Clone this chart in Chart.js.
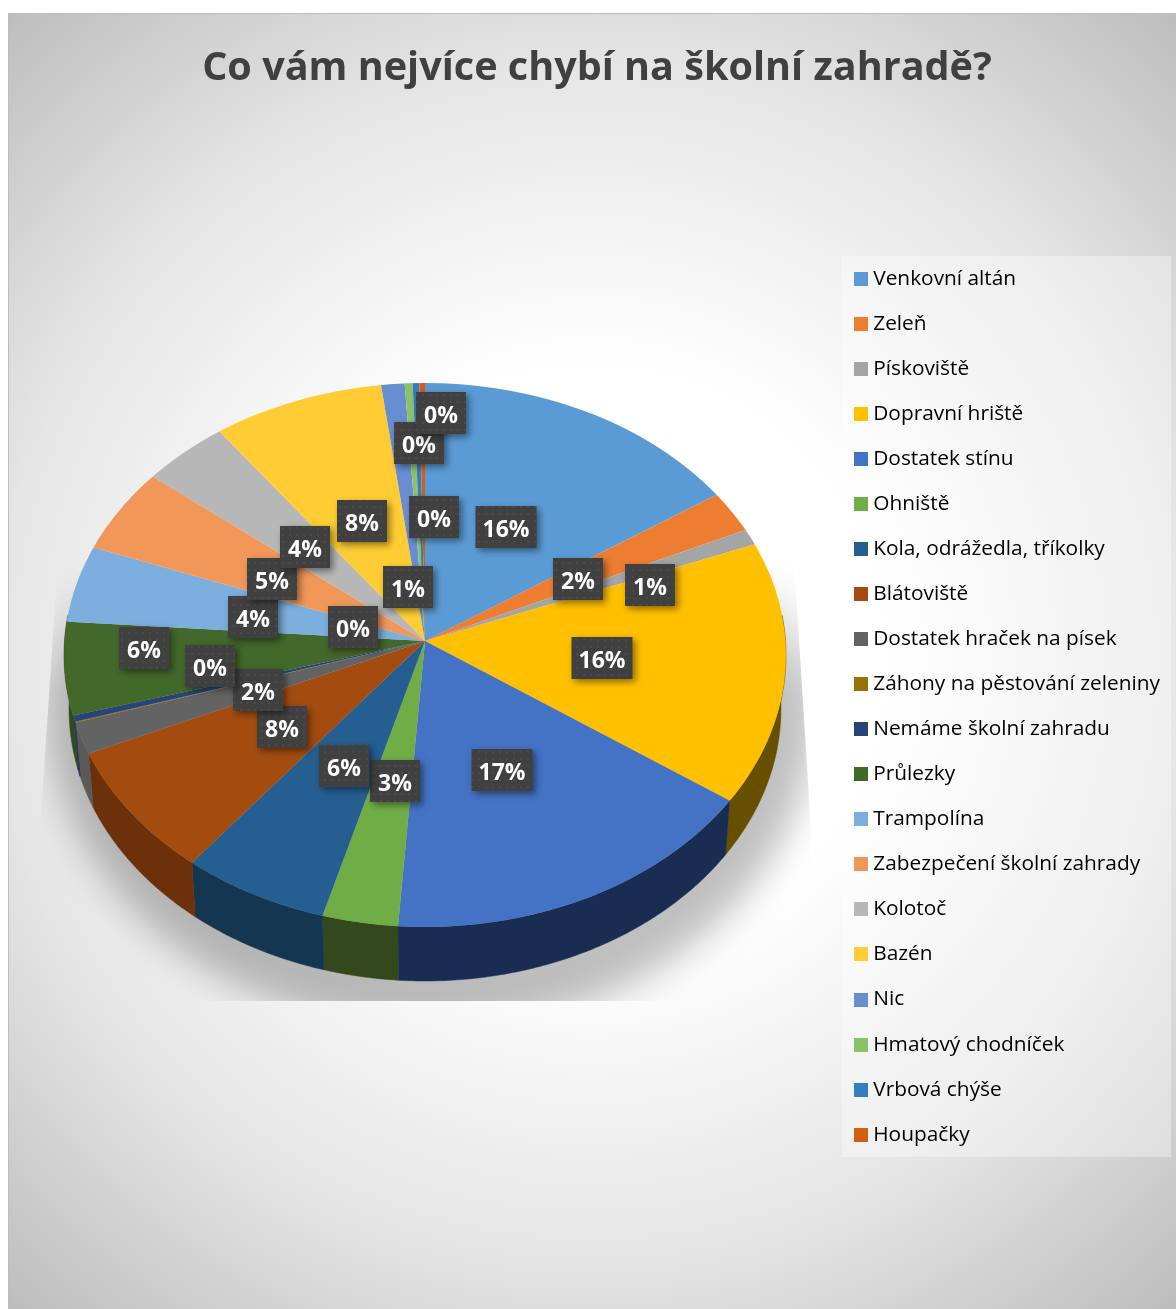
<!DOCTYPE html>
<html lang="cs">
<head>
<meta charset="utf-8">
<title>Co vám nejvíce chybí na školní zahradě?</title>
<script src="https://cdn.jsdelivr.net/npm/chart.js@4"></script>
<style>
  html, body { margin: 0; background: #fff; }
  canvas { display: block; }
</style>
</head>
<body>
<canvas id="pie" width="1176" height="1309"></canvas>
<script>
const categories = ['Venkovní altán', 'Zeleň', 'Pískoviště', 'Dopravní hriště', 'Dostatek stínu', 'Ohniště',
  'Kola, odrážedla, tříkolky', 'Blátoviště', 'Dostatek hraček na písek', 'Záhony na pěstování zeleniny',
  'Nemáme školní zahradu', 'Průlezky', 'Trampolína', 'Zabezpečení školní zahrady', 'Kolotoč', 'Bazén', 'Nic',
  'Hmatový chodníček', 'Vrbová chýše', 'Houpačky'];
const shares = [15.3, 2.55, 1.0, 15.5, 16.95, 3.4, 6.5, 7.6, 1.8, 0.05, 0.35, 5.35, 4.8, 5.2, 4.1, 7.8, 1.05, 0.35, 0.3, 0.25];
const percentLabels = ['16%', '2%', '1%', '16%', '17%', '3%', '6%', '8%', '2%', '0%', '0%', '6%', '4%', '5%', '4%', '8%', '1%', '0%', '0%', '0%'];

const topColors = ['#5b9bd5', '#ed7d31', '#a5a5a5', '#ffc000', '#4472c4', '#70ad47', '#255e91', '#a44c10', '#636363', '#997300',
  '#264478', '#43682b', '#7cafdd', '#f1975a', '#b7b7b7', '#ffcd33', '#698ed0', '#8cc168', '#327dc2', '#d26012'];
const sideColors = ['#2b4a66', '#70390f', '#4f4f4f', '#665000', '#192c52', '#33481c', '#143650', '#6c300a', '#5a5a5a', '#473600',
  '#1e3560', '#2f4a1e', '#3b5369', '#73482b', '#575757', '#7a6218', '#324463', '#435c31', '#183b5c', '#642e09'];

// where the data label boxes sit, same order as the categories
const labelSpots = [[506, 527], [578, 579], [650, 585], [602, 658], [502, 770], [395, 781], [344, 766], [282, 727], [258, 690], [210, 666],
  [353, 627], [144, 648], [253, 617], [272, 579], [305, 547], [362, 521], [408, 587], [434, 517], [419, 443], [441, 413]];

// the pie centre sits above the middle of the tilted outline
const hub = { x: 425, y: 641, up: 258, down: 287, rx: 361 };
const outline = { x: 425, y: 655, rx: 361, ry: 272 };
const wallDepth = 54;
const wallNarrow = 0.986;

const FONT = '"Open Sans", sans-serif';

function swatch(color) {
  const c = document.createElement('canvas');
  c.width = c.height = 14;
  const g = c.getContext('2d');
  g.fillStyle = color;
  g.fillRect(0, 0, 14, 14);
  return c;
}

function labelPattern(ctx) {
  const c = document.createElement('canvas');
  c.width = c.height = 7;
  const g = c.getContext('2d');
  g.fillStyle = '#404040';
  g.fillRect(0, 0, 7, 7);
  g.fillStyle = '#4a4a4a';
  g.fillRect(2, 2, 2, 2);
  return ctx.createPattern(c, 'repeat');
}

// where the ray of one pie angle meets the tilted outline
function rimPoint(a) {
  const dx = hub.rx * Math.cos(a);
  const dy = (Math.sin(a) > 0 ? hub.down : hub.up) * Math.sin(a);
  const oy = hub.y - outline.y;
  const A = (dx * dx) / (outline.rx * outline.rx) + (dy * dy) / (outline.ry * outline.ry);
  const B = 2 * dy * oy / (outline.ry * outline.ry);
  const C = (oy * oy) / (outline.ry * outline.ry) - 1;
  const t = (-B + Math.sqrt(B * B - 4 * A * C)) / (2 * A);
  return [hub.x + t * dx, hub.y + t * dy];
}

const backdrop = {
  id: 'backdrop',
  beforeDraw(chart) {
    const ctx = chart.ctx;
    ctx.save();
    const grad = ctx.createRadialGradient(592, 660, 0, 592, 660, 880);
    grad.addColorStop(0, '#ffffff');
    grad.addColorStop(0.33, '#ffffff');
    grad.addColorStop(0.67, '#e6e6e6');
    grad.addColorStop(1, '#bcbcbc');
    ctx.fillStyle = grad;
    ctx.fillRect(8, 14, 1168, 1295);
    ctx.strokeStyle = '#bdbdbd';
    ctx.lineWidth = 1;
    ctx.beginPath();
    ctx.moveTo(8.5, 1309);
    ctx.lineTo(8.5, 13.5);
    ctx.lineTo(1176, 13.5);
    ctx.stroke();
    ctx.fillStyle = 'rgba(255,255,255,0.35)';
    ctx.fillRect(842, 256, 329, 901);
    ctx.restore();
  }
};

const disc = {
  id: 'disc',
  beforeDatasetsDraw(chart) {
    const ctx = chart.ctx;
    const arcs = chart.getDatasetMeta(0).data;

    // soft shadow, cut off by a trapezoid like the original, fading out towards the top
    ctx.save();
    ctx.beginPath();
    ctx.moveTo(58, 560);
    ctx.lineTo(794, 560);
    ctx.lineTo(811, 830);
    ctx.lineTo(811, 1001);
    ctx.lineTo(40, 1001);
    ctx.lineTo(40, 830);
    ctx.closePath();
    ctx.clip();
    ctx.filter = 'blur(18px)';
    const fade = ctx.createLinearGradient(0, 570, 0, 690);
    fade.addColorStop(0, 'rgba(0,0,0,0)');
    fade.addColorStop(1, 'rgba(0,0,0,0.25)');
    ctx.fillStyle = fade;
    ctx.beginPath();
    ctx.ellipse(432, 705, 384, 325, 0, 0, Math.PI * 2);
    ctx.fill();
    ctx.restore();

    // side wall, only the front half shows
    arcs.forEach((arc, i) => {
      const a1 = Math.max(arc.startAngle, -0.1);
      const a2 = Math.min(arc.endAngle, Math.PI + 0.1);
      if (a2 <= a1) return;
      const steps = Math.ceil((a2 - a1) / 0.01) + 1;
      ctx.beginPath();
      for (let s = 0; s <= steps; s++) {
        const p = rimPoint(a1 + (a2 - a1) * s / steps);
        ctx.lineTo(p[0], p[1]);
      }
      for (let s = steps; s >= 0; s--) {
        const p = rimPoint(a1 + (a2 - a1) * s / steps);
        ctx.lineTo(outline.x + (p[0] - outline.x) * wallNarrow, p[1] + wallDepth);
      }
      ctx.closePath();
      ctx.fillStyle = sideColors[i];
      ctx.strokeStyle = sideColors[i];
      ctx.lineWidth = 0.5;
      ctx.fill();
      ctx.stroke();
    });

    // top face: the library's arcs, squashed more above the centre than below,
    // drawn a bit oversize and cut to the outline
    const first = arcs[0];
    const grow = 1.1 * hub.rx / first.outerRadius;
    const halves = [
      { clipY: 0, clipH: hub.y + 0.5, ky: hub.up },
      { clipY: hub.y, clipH: 700, ky: hub.down }
    ];
    ctx.save();
    ctx.beginPath();
    ctx.ellipse(outline.x, outline.y, outline.rx, outline.ry, 0, 0, Math.PI * 2);
    ctx.clip();
    halves.forEach(h => {
      ctx.save();
      ctx.beginPath();
      ctx.rect(0, h.clipY, chart.width, h.clipH);
      ctx.clip();
      ctx.translate(hub.x, hub.y);
      ctx.scale(grow, grow * h.ky / hub.rx);
      ctx.translate(-first.x, -first.y);
      arcs.forEach(arc => arc.draw(ctx));
      ctx.restore();
    });
    ctx.restore();
    return false;
  },
  afterDraw(chart) {
    const ctx = chart.ctx;
    const pattern = labelPattern(ctx);
    ctx.save();
    ctx.font = 'bold 23px ' + FONT;
    ctx.textAlign = 'center';
    ctx.textBaseline = 'middle';
    percentLabels.forEach((text, i) => {
      const [x, y] = labelSpots[i];
      const w = ctx.measureText(text).width + 14;
      const boxW = Math.max(50, Math.round(w));
      ctx.save();
      ctx.shadowColor = 'rgba(0,0,0,0.45)';
      ctx.shadowBlur = 7;
      ctx.shadowOffsetX = 3;
      ctx.shadowOffsetY = 3;
      ctx.fillStyle = pattern;
      ctx.fillRect(x - boxW / 2, y - 21, boxW, 42);
      ctx.restore();
      ctx.fillStyle = '#ffffff';
      ctx.fillText(text, x, y + 3);
    });
    ctx.restore();
  }
};

new Chart(document.getElementById('pie'), {
  type: 'pie',
  data: {
    labels: categories,
    datasets: [{ data: shares, backgroundColor: topColors, borderWidth: 0 }]
  },
  options: {
    responsive: false,
    devicePixelRatio: 1,
    animation: false,
    layout: { padding: { left: 24, right: 6, top: 0, bottom: 10 } },
    plugins: {
      tooltip: { enabled: false },
      title: {
        display: true,
        text: 'Co vám nejvíce chybí na školní zahradě?',
        color: '#404040',
        font: { family: FONT, size: 39.6, weight: 'bold', lineHeight: 1.2 },
        padding: { top: 44.6, bottom: 152 }
      },
      legend: {
        position: 'right',
        align: 'start',
        fullSize: false,
        labels: {
          color: '#404040',
          font: { family: FONT, size: 20.85 },
          usePointStyle: true,
          boxHeight: 14,
          pointStyleWidth: 4.5,
          padding: 24.2,
          generateLabels: chart => categories.map((name, i) => ({
            text: name,
            fillStyle: topColors[i],
            strokeStyle: topColors[i],
            lineWidth: 0,
            pointStyle: swatch(topColors[i]),
            hidden: false,
            index: i
          }))
        }
      }
    }
  },
  plugins: [backdrop, disc]
});
</script>
</body>
</html>
